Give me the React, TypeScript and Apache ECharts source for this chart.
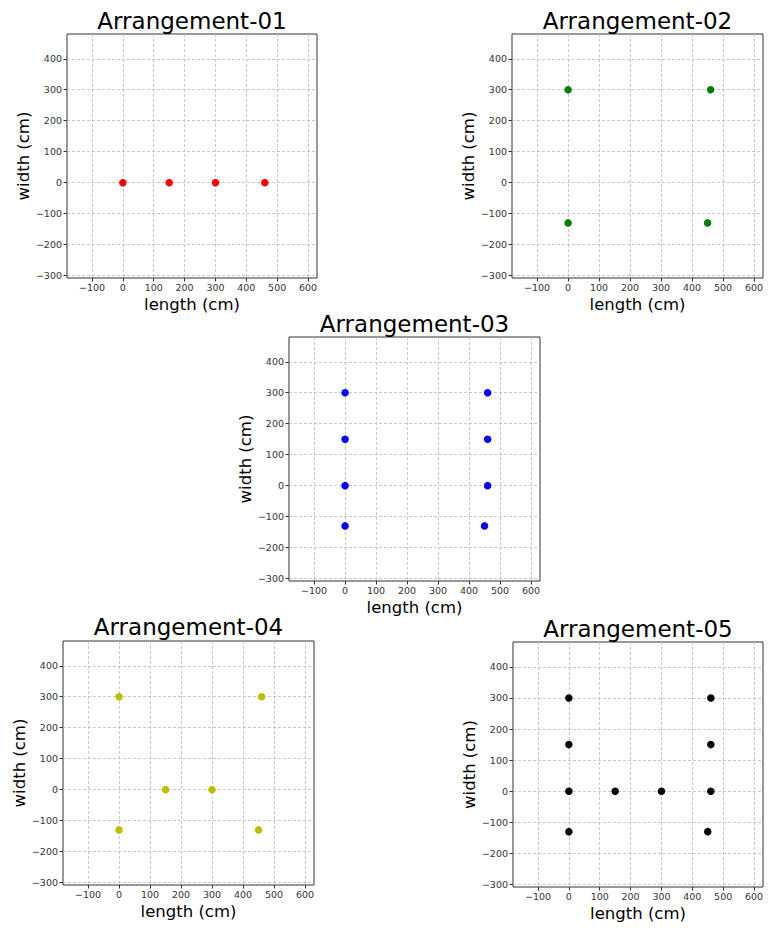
import React, { useEffect, useRef } from "react";
import * as echarts from "echarts";

const titles = ["Arrangement-01", "Arrangement-02", "Arrangement-03", "Arrangement-04", "Arrangement-05"];
const colors = ["#ff0000", "#008000", "#0000ff", "#bfbf00", "#000000"];

const arr01: number[][] = [[0, 0], [150, 0], [300, 0], [460, 0]];
const arr02: number[][] = [[0, 300], [460, 300], [0, -130], [450, -130]];
const arr03: number[][] = [[0, 300], [0, 150], [0, 0], [0, -130], [460, 300], [460, 150], [460, 0], [450, -130]];
const arr04: number[][] = [[0, 300], [460, 300], [150, 0], [300, 0], [0, -130], [450, -130]];
const arr05: number[][] = [[0, 300], [0, 150], [0, 0], [0, -130], [150, 0], [300, 0], [460, 300], [460, 150], [460, 0], [450, -130]];
const arrangements = [arr01, arr02, arr03, arr04, arr05];

const xTicks = [-100, 0, 100, 200, 300, 400, 500, 600];
const yTicks = [-300, -200, -100, 0, 100, 200, 300, 400];
const xLabel = "length (cm)";
const yLabel = "width (cm)";

// panel layout: left, top, width, height (px)
const panels = [
  { left: 67, top: 34, width: 250, height: 244 },
  { left: 512, top: 34, width: 251, height: 244 },
  { left: 289, top: 337, width: 251, height: 244 },
  { left: 63, top: 641, width: 251, height: 244 },
  { left: 513, top: 642, width: 250, height: 245 },
];
const titleY = [21, 21, 324, 627, 629];

const FONT = "DejaVu Sans";

export default function App() {
  const ref = useRef<HTMLDivElement>(null);
  useEffect(() => {
    if (!ref.current) return;
    const chart = echarts.init(ref.current, null, { renderer: "svg" });
    const fmt = (v: number) => String(v).replace("-", "\u2212");
    const grid = panels.map((p) => ({
      left: p.left, top: p.top, width: p.width, height: p.height,
      show: true, borderColor: "#333", borderWidth: 1, containLabel: false,
    }));
    const xAxis = panels.map((_, i) => ({
      type: "value", gridIndex: i, min: -181, max: 629, position: "bottom",
      axisLine: { show: false, onZero: false },
      axisTick: { show: true, customValues: xTicks, length: 3.5, lineStyle: { color: "#333" } },
      axisLabel: { customValues: xTicks, fontSize: 9.5, color: "#333", margin: 4, fontFamily: FONT, formatter: fmt },
      splitLine: { show: true, lineStyle: { type: [3, 2], color: "#bbbbbb", width: 0.8 } },
      name: xLabel, nameLocation: "middle", nameGap: 18,
      nameTextStyle: { fontSize: 16.5, color: "#000", fontFamily: FONT },
    }));
    const yAxis = panels.map((_, i) => ({
      type: "value", gridIndex: i, min: -308, max: 480, position: "left",
      axisLine: { show: false, onZero: false },
      axisTick: { show: true, customValues: yTicks, length: 3.5, lineStyle: { color: "#333" } },
      axisLabel: { customValues: yTicks, fontSize: 9.5, color: "#333", margin: 5, fontFamily: FONT, formatter: fmt },
      splitLine: { show: true, lineStyle: { type: [3, 2], color: "#bbbbbb", width: 0.8 } },
      name: yLabel, nameLocation: "middle", nameGap: 33, nameRotate: 90,
      nameTextStyle: { fontSize: 16.5, color: "#000", fontFamily: FONT },
    }));
    const series = arrangements.map((d, i) => ({
      type: "scatter", xAxisIndex: i, yAxisIndex: i, data: d,
      symbolSize: 7.5, itemStyle: { color: colors[i], opacity: 1 },
    }));
    const graphic = panels.map((p, i) => ({
      type: "text", x: p.left + p.width / 2, y: titleY[i],
      style: { text: titles[i], fontSize: 23, fontFamily: FONT, fill: "#000", textAlign: "center", textVerticalAlign: "middle" },
    }));
    chart.setOption({
      animation: false,
      backgroundColor: "#fff",
      grid, xAxis, yAxis, series, graphic,
    } as any);
    return () => chart.dispose();
  }, []);
  return <div ref={ref} style={{ position: "absolute", left: 0, top: 0, width: 771, height: 928 }} />;
}
